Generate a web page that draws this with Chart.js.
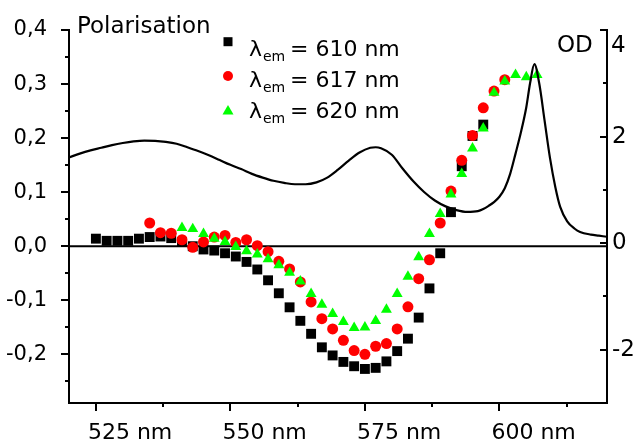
<!DOCTYPE html>
<html>
<head>
<meta charset="utf-8">
<script src="https://cdn.jsdelivr.net/npm/chart.js@4.4.1/dist/chart.umd.min.js"></script>
<style>
  html, body { margin: 0; padding: 0; background: #fff; }
</style>
</head>
<body>
<canvas id="polarisation" width="638" height="445"></canvas>
<script>
// polarisation, lambda_em = 610 nm (black squares)
const wl610 = [525, 527, 529, 531, 533, 535, 537, 539, 541, 543, 545, 547, 549, 551, 553, 555, 557, 559, 561,
  563, 565, 567, 569, 571, 573, 575, 577, 579, 581, 583, 585, 587, 589, 591, 593, 595, 597];
const pol610 = [0.014, 0.010, 0.010, 0.010, 0.014, 0.017, 0.018, 0.015, 0.008, 0.000, -0.006, -0.008, -0.013,
  -0.019, -0.029, -0.043, -0.063, -0.087, -0.113, -0.138, -0.162, -0.187, -0.202, -0.214, -0.222, -0.227,
  -0.225, -0.213, -0.194, -0.171, -0.132, -0.078, -0.013, 0.063, 0.148, 0.204, 0.225];

// lambda_em = 617 nm (red circles)
const wl617 = [535, 537, 539, 541, 543, 545, 547, 549, 551, 553, 555, 557, 559, 561, 563, 565, 567, 569, 571,
  573, 575, 577, 579, 581, 583, 585, 587, 589, 591, 593, 595, 597, 599, 601];
const pol617 = [0.043, 0.025, 0.024, 0.012, -0.002, 0.008, 0.017, 0.020, 0.007, 0.012, 0.001, -0.010, -0.028,
  -0.042, -0.066, -0.103, -0.134, -0.153, -0.174, -0.193, -0.200, -0.185, -0.180, -0.153, -0.112, -0.060,
  -0.025, 0.043, 0.102, 0.159, 0.205, 0.256, 0.287, 0.308];

// lambda_em = 620 nm (green triangles)
const wl620 = [541, 543, 545, 547, 549, 551, 553, 555, 557, 559, 561, 563, 565, 567, 569, 571, 573, 575, 577,
  579, 581, 583, 585, 587, 589, 591, 593, 595, 597, 599, 601, 603, 605, 607];
const pol620 = [0.034, 0.032, 0.023, 0.014, 0.008, -0.001, -0.009, -0.015, -0.024, -0.035, -0.049, -0.065,
  -0.088, -0.108, -0.125, -0.140, -0.151, -0.150, -0.138, -0.117, -0.088, -0.056, -0.020, 0.023, 0.060, 0.096,
  0.134, 0.181, 0.218, 0.284, 0.305, 0.317, 0.313, 0.317];

// absorption spectrum (OD, right axis)
const odWl = [520, 522, 524, 526, 528, 530, 532, 534, 536, 538, 540, 542, 544, 546, 548, 550, 552, 554, 556,
  558, 560, 562, 564, 566, 568, 570, 572, 574, 576, 577, 578, 580, 582, 584, 586, 588, 590, 592, 594, 596,
  597, 598, 599, 600, 601, 602, 603, 604, 605, 605.7, 606.5, 607.4, 608.4, 609.4, 610.4, 611.3, 612.6,
  614, 615, 617, 618.5, 620];
const odVal = [1.61, 1.68, 1.74, 1.79, 1.84, 1.88, 1.91, 1.925, 1.92, 1.90, 1.865, 1.80, 1.73, 1.65, 1.56,
  1.47, 1.39, 1.30, 1.23, 1.17, 1.13, 1.105, 1.105, 1.14, 1.23, 1.38, 1.55, 1.70, 1.79, 1.80, 1.78, 1.66,
  1.40, 1.16, 0.96, 0.80, 0.69, 0.62, 0.585, 0.60, 0.64, 0.70, 0.77, 0.87, 1.03, 1.30, 1.68, 2.08, 2.55, 3.0,
  3.36, 3.0, 2.3, 1.6, 1.05, 0.68, 0.41, 0.27, 0.21, 0.16, 0.14, 0.12];

// axes
const xMin = 520, xMax = 620;
const xTicks = [525, 550, 575, 600];
const xMinor = [537.5, 562.5, 587.5, 612.5];
const polMin = -0.29, polMax = 0.4;
const polTicks = [-0.2, -0.1, 0, 0.1, 0.2, 0.3, 0.4];
const polMinor = [-0.25, -0.15, -0.05, 0.05, 0.15, 0.25, 0.35];
const odMin = -3, odMax = 4;
const odTicks = [-2, 0, 2, 4];
const odMinor = [-1, 1, 3];

const legendItems = ['610', '617', '620'];

const toXY = (xs, ys) => xs.map((v, i) => ({ x: v, y: ys[i] }));

Chart.defaults.font.family = '"DejaVu Sans", sans-serif';
Chart.defaults.color = '#000';

// tick marks, legend and titles
const decor = {
  id: 'decor',
  afterDraw(chart) {
    const { ctx } = chart;
    const sx = chart.scales.x, sy = chart.scales.y, sy1 = chart.scales.y1;
    ctx.save();
    ctx.strokeStyle = '#000';
    ctx.lineWidth = 2;
    const line = (a, b, c, d) => { ctx.beginPath(); ctx.moveTo(a, b); ctx.lineTo(c, d); ctx.stroke(); };

    polTicks.forEach(v => { const p = Math.round(sy.getPixelForValue(v)); line(sy.right, p, sy.right - 8, p); });
    polMinor.forEach(v => { const p = Math.round(sy.getPixelForValue(v)); line(sy.right, p, sy.right - 4, p); });
    xTicks.forEach(v => { const p = Math.round(sx.getPixelForValue(v)); line(p, sx.top, p, sx.top + 8); });
    xMinor.forEach(v => { const p = Math.round(sx.getPixelForValue(v)); line(p, sx.top, p, sx.top + 4); });
    odTicks.forEach(v => { const p = Math.round(sy1.getPixelForValue(v)); line(sy1.left, p, sy1.left - 7, p); });
    odMinor.forEach(v => { const p = Math.round(sy1.getPixelForValue(v)); line(sy1.left, p, sy1.left - 4, p); });

    ctx.fillStyle = '#000';
    ctx.textBaseline = 'alphabetic';
    ctx.font = '23px "DejaVu Sans"';
    ctx.fillText('Polarisation', 77, 33);
    ctx.fillText('OD', 557, 52);
    // top OD label sits level with the axis title
    ctx.fillText(String(odTicks[odTicks.length - 1]), 611, 52);

    // legend
    const rows = [56, 87, 118];
    const mk = [41.7, 76, 110];
    const mx = 228;
    ctx.fillStyle = '#000';
    ctx.fillRect(mx - 4.5, mk[0] - 4.5, 9, 9);
    ctx.fillStyle = '#ff0000';
    ctx.beginPath(); ctx.arc(mx, mk[1], 5, 0, Math.PI * 2); ctx.fill();
    ctx.fillStyle = '#00ff00';
    ctx.beginPath(); ctx.moveTo(mx, mk[2] - 5); ctx.lineTo(mx + 5.5, mk[2] + 4.5); ctx.lineTo(mx - 5.5, mk[2] + 4.5); ctx.closePath(); ctx.fill();

    ctx.fillStyle = '#000';
    legendItems.forEach((nm, i) => {
      ctx.font = '22px "DejaVu Sans"';
      ctx.fillText('\u03bb', 249, rows[i]);
      ctx.font = '14px "DejaVu Sans"';
      ctx.fillText('em', 263, rows[i] + 5);
      ctx.font = '22px "DejaVu Sans"';
      ctx.fillText('= ' + nm + ' nm', 290, rows[i]);
    });
    ctx.restore();
  }
};

new Chart(document.getElementById('polarisation'), {
  type: 'scatter',
  data: {
    datasets: [
      {
        label: 'OD',
        type: 'line',
        data: toXY(odWl, odVal),
        yAxisID: 'y1',
        borderColor: '#000',
        borderWidth: 2.2,
        pointRadius: 0,
        fill: false,
        cubicInterpolationMode: 'monotone',
        order: 0
      },
      {
        label: '620 nm',
        data: toXY(wl620, pol620),
        yAxisID: 'y',
        pointStyle: 'triangle',
        pointRadius: 6.3,
        pointBackgroundColor: '#00ff00',
        pointBorderWidth: 0,
        order: 1
      },
      {
        label: '617 nm',
        data: toXY(wl617, pol617),
        yAxisID: 'y',
        pointStyle: 'circle',
        pointRadius: 5.5,
        pointBackgroundColor: '#ff0000',
        pointBorderWidth: 0,
        order: 2
      },
      {
        label: '610 nm',
        data: toXY(wl610, pol610),
        yAxisID: 'y',
        pointStyle: 'rect',
        pointRadius: 7,
        pointBackgroundColor: '#000',
        pointBorderWidth: 0,
        order: 3
      },
      {
        label: 'zero',
        type: 'line',
        data: [{ x: xMin, y: 0 }, { x: xMax, y: 0 }],
        yAxisID: 'y',
        borderColor: '#000',
        borderWidth: 2,
        pointRadius: 0,
        order: 5
      }
    ]
  },
  options: {
    responsive: false,
    animation: false,
    layout: { padding: { top: 30, left: 0, right: 0, bottom: 0 } },
    plugins: { legend: { display: false }, tooltip: { enabled: false } },
    scales: {
      x: {
        type: 'linear',
        position: 'bottom',
        min: xMin,
        max: xMax,
        afterBuildTicks: s => { s.ticks = xTicks.map(v => ({ value: v })); },
        afterFit: s => { s.height = 42; },
        grid: { display: false },
        border: { display: true, color: '#000', width: 2 },
        ticks: { font: { size: 22 }, padding: 9, maxRotation: 0, align: 'start', labelOffset: -8,
          callback: v => v + ' nm' }
      },
      y: {
        type: 'linear',
        position: 'left',
        min: polMin,
        max: polMax,
        afterBuildTicks: s => { s.ticks = polTicks.map(v => ({ value: v })); },
        afterFit: s => { s.width = 69; },
        grid: { display: false },
        border: { display: true, color: '#000', width: 2 },
        ticks: { font: { size: 21 }, padding: 14, callback: v => v.toFixed(1).replace('.', ',') }
      },
      y1: {
        type: 'linear',
        position: 'right',
        min: odMin,
        max: odMax,
        afterBuildTicks: s => { s.ticks = odTicks.map(v => ({ value: v })); },
        afterFit: s => { s.width = 31; },
        grid: { display: false },
        border: { display: true, color: '#000', width: 2 },
        ticks: { font: { size: 23 }, padding: -3, callback: v => (v === odMax ? '' : String(v)) }
      }
    }
  },
  plugins: [decor]
});
</script>
</body>
</html>
